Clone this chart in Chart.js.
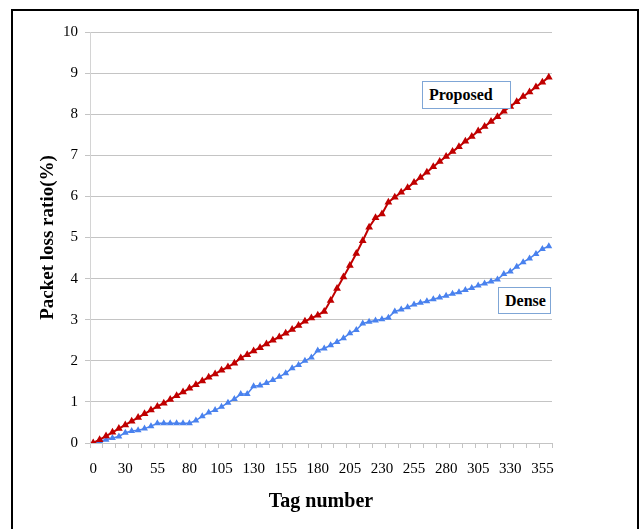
<!DOCTYPE html>
<html>
<head>
<meta charset="utf-8">
<script src="https://cdn.jsdelivr.net/npm/chart.js@4"></script>
<style>
  html, body { margin: 0; padding: 0; background: #fff; }
  #wrap { position: relative; width: 642px; height: 529px; overflow: hidden; }
  #frame { position: absolute; left: 11px; top: 9px; width: 624px; height: 540px; border: 2px solid #000; }
  .note { position: absolute; border: 1px solid #7fa6d6; background: #fff;
          font: bold 16px "Liberation Serif", serif; color: #000; box-sizing: border-box;
          padding: 4px 0 0 6px; }
</style>
</head>
<body>
<div id="wrap">
  <div id="frame"></div>
  <canvas id="chart" width="642" height="529"></canvas>
  <div class="note" style="left:422px; top:81px; width:89px; height:28px;">Proposed</div>
  <div class="note" style="left:498px; top:287px; width:53px; height:27px;">Dense</div>
</div>
<script>
// Tag number categories (x axis)
const tagNumbers = ['0', '10', '15', '20', '25', '30', '35', '40', '45', '50', '55', '60', '65', '70', '75', '80',
    '85', '90', '95', '100', '105', '110', '115', '120', '125', '130', '135', '140', '145', '150', '155',
    '160', '165', '170', '175', '180', '185', '190', '195', '200', '205', '210', '215', '220', '225', '230',
    '235', '240', '245', '250', '255', '260', '265', '270', '275', '280', '285', '290', '295', '300', '305',
    '310', '315', '320', '325', '330', '335', '340', '345', '350', '355', '360'];

// Packet loss ratio (%) for each series
const proposedLoss = [0.00, 0.08, 0.17, 0.26, 0.35, 0.44, 0.53, 0.62, 0.71, 0.80, 0.89, 0.97, 1.06, 1.15, 1.24, 1.33,
    1.42, 1.51, 1.60, 1.68, 1.77, 1.85, 1.94, 2.07, 2.15, 2.24, 2.32, 2.41, 2.50, 2.58, 2.67,
    2.76, 2.86, 2.96, 3.04, 3.11, 3.20, 3.47, 3.76, 4.04, 4.32, 4.61, 4.92, 5.25, 5.48, 5.57,
    5.86, 5.98, 6.10, 6.21, 6.34, 6.46, 6.59, 6.72, 6.85, 6.97, 7.09, 7.21, 7.34, 7.46, 7.59,
    7.70, 7.82, 7.94, 8.07, 8.19, 8.30, 8.43, 8.54, 8.66, 8.78, 8.90];

const denseLoss = [0.00, 0.05, 0.08, 0.12, 0.16, 0.25, 0.29, 0.31, 0.35, 0.41, 0.48, 0.48, 0.48, 0.48, 0.48, 0.48,
    0.55, 0.65, 0.74, 0.80, 0.88, 0.98, 1.07, 1.19, 1.19, 1.38, 1.40, 1.46, 1.53, 1.61, 1.70,
    1.82, 1.90, 2.00, 2.08, 2.25, 2.30, 2.38, 2.46, 2.55, 2.67, 2.75, 2.91, 2.95, 2.98, 3.01,
    3.05, 3.20, 3.25, 3.30, 3.37, 3.41, 3.45, 3.50, 3.54, 3.58, 3.63, 3.67, 3.72, 3.77, 3.83,
    3.88, 3.93, 3.98, 4.11, 4.17, 4.29, 4.40, 4.49, 4.60, 4.72, 4.79];

// Y axis tick values
const lossTicks = [0, 1, 2, 3, 4, 5, 6, 7, 8, 9, 10];

const gridGray = '#c4c4c4';
const serif = '"Liberation Serif", "Times New Roman", serif';

new Chart(document.getElementById('chart'), {
    type: 'line',
    data: {
        labels: tagNumbers,
        datasets: [
            {
                label: 'Proposed',
                data: proposedLoss,
                borderColor: '#c00000',
                backgroundColor: '#c00000',
                borderWidth: 2,
                pointStyle: 'triangle',
                pointRadius: 2.5,
                tension: 0
            },
            {
                label: 'Dense',
                data: denseLoss,
                borderColor: '#4a82ee',
                backgroundColor: '#4a82ee',
                borderWidth: 1.5,
                pointStyle: 'triangle',
                pointRadius: 2.5,
                tension: 0
            }
        ]
    },
    options: {
        responsive: false,
        animation: false,
        layout: { padding: { left: 0, top: 32, right: 90, bottom: 0 } },
        plugins: {
            legend: { display: false },
            tooltip: { enabled: false }
        },
        scales: {
            x: {
                type: 'category',
                offset: true,
                afterFit: (scale) => { scale.height = 86; },
                grid: {
                    offset: true,
                    drawOnChartArea: false,
                    tickLength: 5,
                    // tick marks every second category boundary
                    tickColor: (ctx) => (ctx.type !== 'tick' || ctx.index % 2 === 0) ? gridGray : 'rgba(0,0,0,0)'
                },
                border: { color: gridGray },
                ticks: {
                    autoSkip: false,
                    maxRotation: 0,
                    padding: 12,
                    color: '#000',
                    font: { family: serif, size: 15 },
                    callback: (value, index) => index % 5 === 0 ? tagNumbers[index] : ''
                },
                title: {
                    display: true,
                    text: 'Tag number',
                    color: '#000',
                    font: { family: serif, size: 20, weight: 'bold' },
                    padding: { top: 0, bottom: 15 }
                }
            },
            y: {
                min: 0,
                max: 10,
                afterFit: (scale) => { scale.width = 90; },
                afterBuildTicks: (scale) => { scale.ticks = lossTicks.map(v => ({ value: v })); },
                grid: { color: gridGray, tickLength: 5 },
                border: { color: '#d4d4d4' },
                ticks: {
                    padding: 7,
                    color: '#000',
                    font: { family: serif, size: 15 }
                },
                title: {
                    display: true,
                    text: 'Packet loss ratio(%)',
                    color: '#000',
                    font: { family: serif, size: 19, weight: 'bold' },
                    padding: { top: 37, bottom: 0 }
                }
            }
        }
    }
});
</script>
</body>
</html>
